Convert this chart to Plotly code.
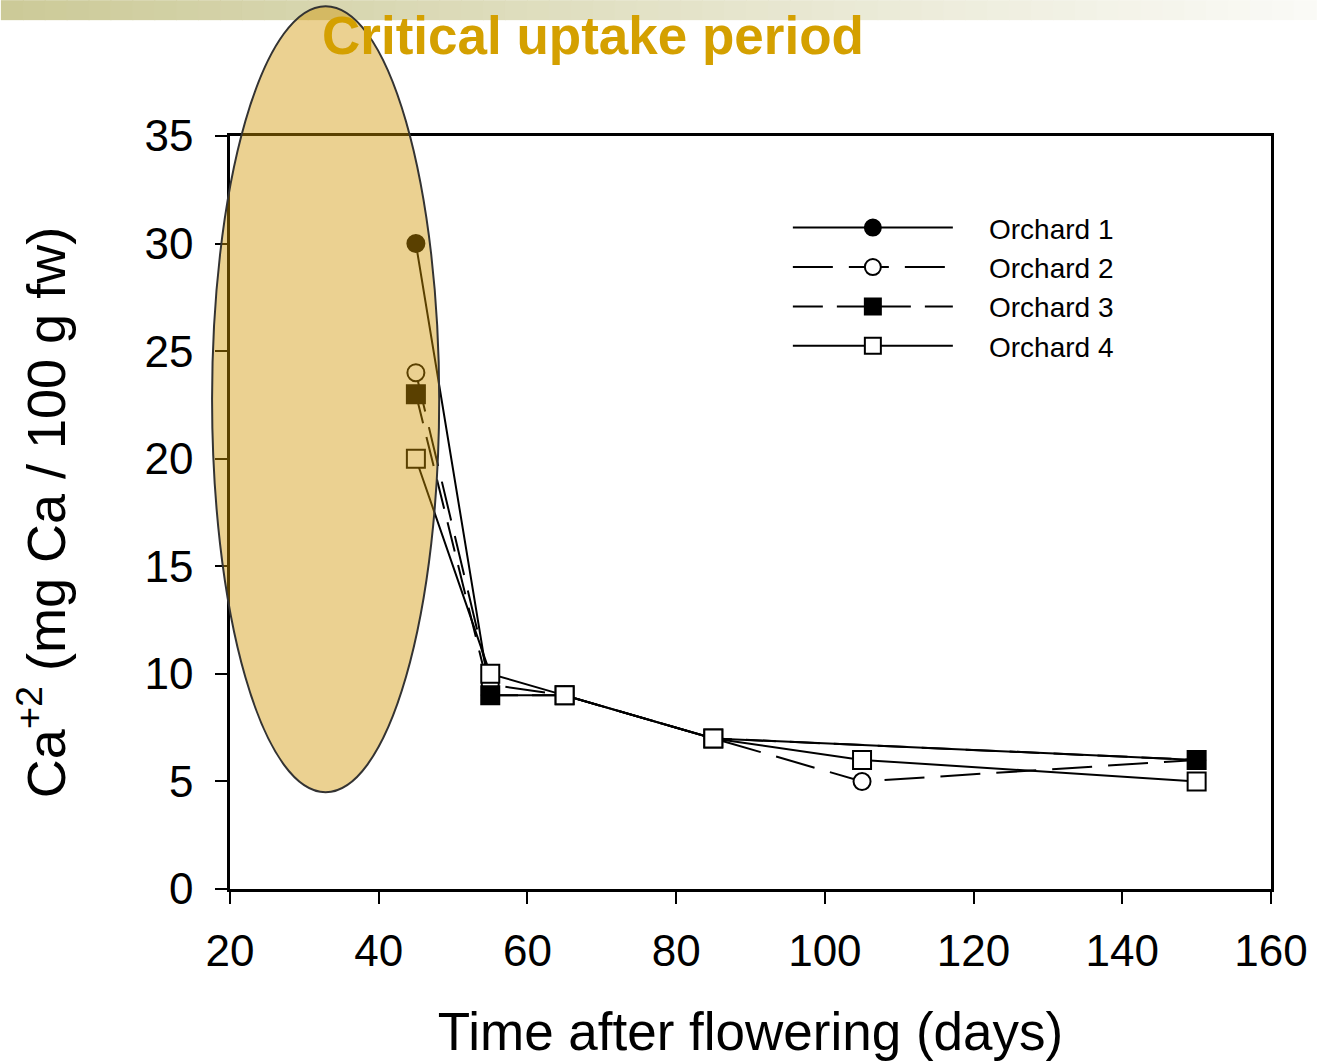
import plotly.graph_objects as go

# ---- data ----
days_1 = [45, 55, 65, 85, 150]
orchard1 = [30, 9, 9, 7, 6]
days_2 = [45, 55, 65, 85, 105, 150]
orchard2 = [24, 9.5, 9, 7, 5, 6]
days_3 = [45, 55, 65, 85, 150]
orchard3 = [23, 9, 9, 7, 6]
days_4 = [45, 55, 65, 85, 105, 150]
orchard4 = [20, 10, 9, 7, 6, 5]
series_names = ["Orchard 1", "Orchard 2", "Orchard 3", "Orchard 4"]
x_ticks = [20, 40, 60, 80, 100, 120, 140, 160]
y_ticks = [0, 5, 10, 15, 20, 25, 30, 35]

W, H = 1320, 1064
L, R, T, B = 230, 1275, 136, 890


def px2x(px):
    return (px - L) / (R - L)


def py2y(py):
    return (B - py) / (B - T)


FONT = "Liberation Sans, Arial, sans-serif"
PAD = "\u00a0" * 4

fig = go.Figure()

styles = [
    dict(dash="solid", symbol="circle", fill="black"),
    dict(dash="40px,16px", symbol="circle", fill="white"),
    dict(dash="30px,14px", symbol="square", fill="black"),
    dict(dash="solid", symbol="square", fill="white"),
]
data = [(days_1, orchard1), (days_2, orchard2), (days_3, orchard3), (days_4, orchard4)]
for name, (xs, ys), st in zip(series_names, data, styles):
    sym = st["symbol"]
    fig.add_trace(go.Scatter(
        x=xs, y=ys, name=PAD + name, mode="lines+markers",
        line=dict(color="black", width=2, dash=st["dash"]),
        marker=dict(symbol=sym, size=17 if sym == "circle" else 18,
                    color=st["fill"], line=dict(color="black", width=2)),
    ))

shapes = []
# top gradient bar
n = 60
c0 = (204, 202, 152)
c1 = (250, 250, 246)
for i in range(n):
    t = i / (n - 1)
    col = tuple(int(round(c0[k] + (c1[k] - c0[k]) * t)) for k in range(3))
    shapes.append(dict(type="rect", xref="paper", yref="paper",
                       x0=px2x(i * W / n), x1=px2x((i + 1) * W / n + 1),
                       y0=py2y(20), y1=py2y(0), line=dict(width=0),
                       fillcolor="rgb(%d,%d,%d)" % col, layer="below"))
# highlighted ellipse
shapes.append(dict(type="circle", xref="paper", yref="paper",
                   x0=px2x(212), x1=px2x(440), y0=py2y(793), y1=py2y(6),
                   fillcolor="rgba(209,149,0,0.43)",
                   line=dict(color="#333333", width=2), layer="above"))

fig.update_layout(
    width=W, height=H,
    margin=dict(l=L, r=W - R, t=T, b=H - B),
    paper_bgcolor="white", plot_bgcolor="white",
    font=dict(family=FONT, color="black"),
    shapes=shapes,
    showlegend=True,
    legend=dict(x=px2x(790), y=py2y(203), xanchor="left", yanchor="top",
                bgcolor="rgba(0,0,0,0)", font=dict(size=28, family=FONT),
                itemwidth=160, tracegroupgap=0),
    annotations=[dict(text="<b>Critical uptake period</b>", xref="paper", yref="paper",
                      x=px2x(594), y=py2y(35), showarrow=False,
                      font=dict(size=53, color="#D4A000", family=FONT),
                      xanchor="center", yanchor="middle")],
    xaxis=dict(range=[20, 160], tickvals=x_ticks, ticks="outside", ticklen=12,
               tickwidth=2, tickcolor="black", showline=True, linecolor="black",
               linewidth=2.5, mirror=True, showgrid=False, zeroline=False,
               tickfont=dict(size=44, family=FONT), ticklabelstandoff=9,
               title=dict(text="Time after flowering (days)",
                          font=dict(size=53, family=FONT), standoff=40)),
    yaxis=dict(range=[0, 35], tickvals=y_ticks, ticks="outside", ticklen=12,
               tickwidth=2, tickcolor="black", showline=True, linecolor="black",
               linewidth=2.5, mirror=True, showgrid=False, zeroline=False,
               tickfont=dict(size=44, family=FONT), ticklabelstandoff=13,
               title=dict(text="Ca<sup>+2</sup> (mg Ca / 100 g fw)",
                          font=dict(size=54, family=FONT), standoff=62)),
)

fig.write_html("out.html")
